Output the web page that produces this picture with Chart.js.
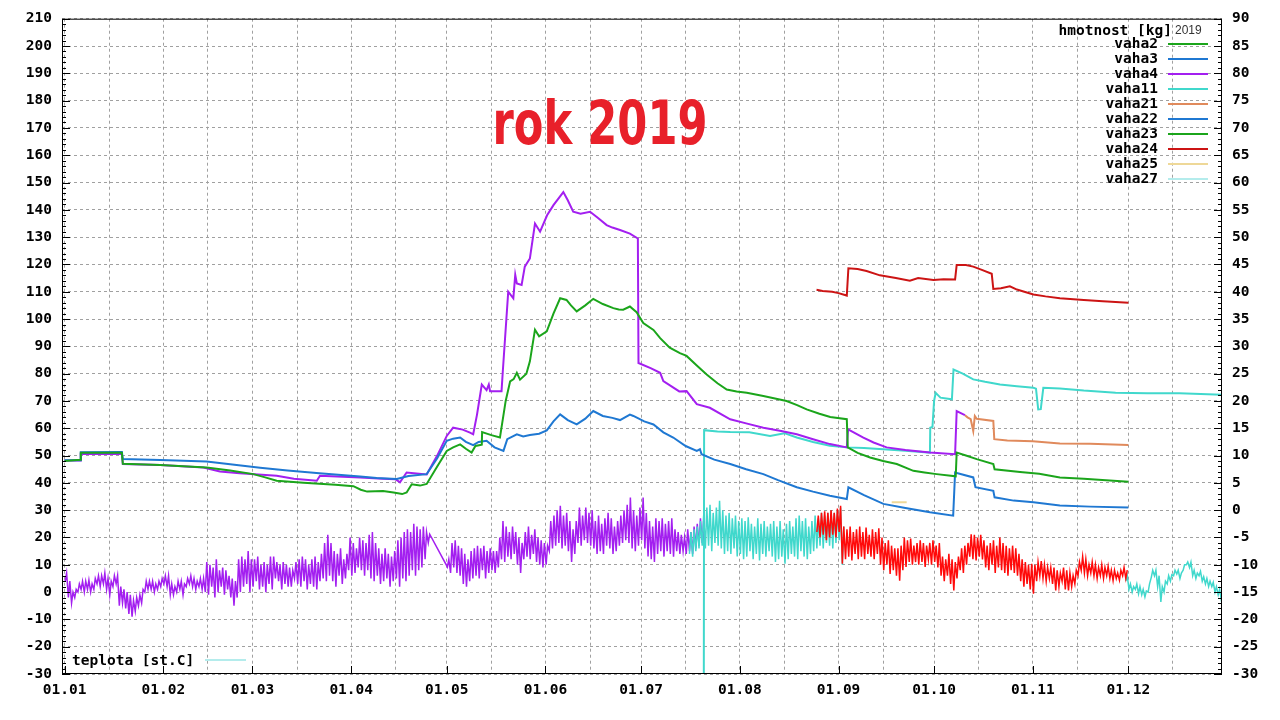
<!DOCTYPE html>
<html><head><meta charset="utf-8">
<script src="https://cdn.jsdelivr.net/npm/chart.js@4.4.1/dist/chart.umd.min.js"></script>
<style>html,body{margin:0;padding:0;background:#fff;}canvas{display:block;}</style>
</head><body>
<canvas id="c" width="1280" height="720"></canvas>
<script>
// ---- axis categories / tick labels ----
const monthStarts = [0,31,59,90,120,151,181,212,243,273,304,334];
const monthLabels = ['01.01','01.02','01.03','01.04','01.05','01.06','01.07','01.08','01.09','01.10','01.11','01.12'];
const midMonths = [14,45,73,104,134,165,195,226,257,287,318,348];

// ---- weight series: [day of year, kg] ----
const vaha2 = [[0,48],[5,48.5],[5.1,51],[18,51],[18.3,47],[30,46.5],[44.6,45.6],[52,44.5],[59.3,43.2],[63,42],[66.6,40.8],[75,40],[85,39.3],[90.7,38.8],[93,37.5],[95,36.8],[100,37],[103.3,36.5],[106,35.9],[107.4,36.5],[109,39.5],[111.6,39],[113.7,39.6],[117,46],[120,51.7],[122,53],[124.2,54.1],[126,52.5],[127.8,51.1],[129,53.5],[131,54],[131.1,58.6],[134,57.5],[136.7,56.6],[138.5,70],[139.9,77.2],[141,78],[142,80.3],[143,77.8],[145,80],[146.1,84.5],[147.7,96.1],[149,93.7],[151.4,95.5],[153.5,102],[155.6,107.6],[157.6,107],[159,105],[160.8,102.8],[163.5,105],[166,107.4],[169,105.5],[172.3,104],[174,103.5],[175.4,103.4],[177.5,104.6],[179.6,102.5],[181.7,98.5],[184.9,96],[187,93],[190,89.5],[193.2,87.5],[195.3,86.5],[198.5,83],[201.6,79.7],[205,76.5],[207.9,74.2],[211,73.5],[214.2,73],[219.4,71.8],[226.7,70],[230,68.5],[233,66.9],[237,65.3],[240.4,64.1],[245.6,63.3],[245.9,53],[249,51],[252.9,49.3],[257,48],[261.3,46.9],[266.5,44.4],[270,43.8],[273.8,43.2],[279.8,42.4],[280.1,51.1],[283,50],[286.4,48.7],[291.6,46.9],[292,45],[300,44],[306,43.3],[312.5,42],[320,41.5],[327,41],[334,40.4]];
const vaha3 = [[0,48.3],[5,48.3],[5.1,51.2],[18,51.3],[18.3,48.7],[30,48.4],[44.6,47.8],[52,46.8],[61.4,45.5],[70,44.5],[80,43.5],[92.8,42.3],[98,41.8],[104.3,41.4],[108,42.5],[113.7,43.2],[117,49],[120,55.4],[122,56.2],[124.2,56.6],[126,55],[128.3,53.8],[130,55],[132.5,55.4],[135,53],[137.8,51.7],[139,56],[142,57.8],[144,57],[146.1,57.5],[149,58],[151.4,59.2],[153.5,62.5],[155.6,65.1],[158,63],[160.8,61.4],[163.5,63.5],[166,66.3],[169,64.5],[172,63.8],[174.4,63],[177.5,65],[178.6,64.5],[182,62.5],[184.9,61.4],[188,58.5],[191.1,56.6],[195,53.5],[198.5,51.7],[199.5,52.3],[200,50.5],[204,48.5],[209,46.9],[214,45],[219.4,43.2],[224,41],[229.9,38.4],[235,36.8],[240.3,35.3],[245.6,34.1],[246.1,38.4],[251,35.5],[257.1,32.3],[264,30.8],[271.7,29.2],[279,28],[279.6,43.8],[285.3,42],[286,38.4],[291.6,37.1],[292,34.7],[298,33.5],[304.2,32.9],[312.5,31.7],[322,31.3],[334,31]];
const vaha4 = [[0,48.2],[5,48.2],[5.1,50.6],[18,50.6],[18.3,46.9],[30,46.5],[43.6,45.6],[48.8,44.2],[55,43.5],[66.6,42.6],[72,41.5],[79.2,40.8],[80.2,42.6],[92.8,42],[100,41.5],[104,41.3],[105.3,40.2],[107.4,43.8],[113.7,43.1],[117,50],[120,57.2],[122,60.2],[125,59.5],[127.3,58.4],[128.3,57.8],[129.5,65],[131,76],[132.5,74],[133.2,76],[133.6,73.6],[137.2,73.6],[137.6,80.9],[139.3,110],[140.9,107.6],[141.5,116.2],[142,113],[143.5,112.5],[144.5,119.2],[146.1,122.2],[147.7,135],[149.3,132],[151.5,138],[153.5,141.7],[156.6,146.5],[158,143.5],[159.7,139.3],[162,138.6],[165,139.3],[167.5,137],[170.2,134.4],[172,133.5],[174.4,132.6],[177.5,131.3],[180,129.5],[180.2,83.9],[184,82],[187,80.3],[188,77.3],[193,73.5],[195.3,73.6],[198.5,68.8],[202.6,67.5],[209,63.3],[214,61.8],[219.4,60.2],[225,59],[229.9,57.8],[235,56],[240.3,54.2],[245.6,53],[246,59.6],[250.8,56.6],[254,54.8],[258.1,53],[264,52],[271.7,51.1],[279.6,50.5],[280.1,66.3],[282.2,65.1],[282.7,64.8]];
const vaha11 = [[200.7,-40],[200.8,59.3],[205,58.8],[209,58.6],[215,58.5],[221.5,57.2],[226,58.2],[229.9,56.6],[235,55],[240.3,53.6],[245.6,53],[251,52.8],[257,52.3],[264,51.8],[271.7,51.1],[271.8,60.2],[272.5,60.5],[273,70],[273.5,73],[275,71.2],[278.6,70.6],[279.1,81.5],[282,80],[285.3,77.9],[289,77],[293.7,76],[299,75.4],[304.2,74.8],[305,74.5],[305.7,66.9],[306.5,67],[307.3,74.8],[312.5,74.6],[320,73.8],[330,73],[340,72.8],[350,72.8],[363.4,72.3]];
const vaha21 = [[282.7,64.8],[283.5,64],[284.5,63.3],[285.3,59],[285.8,64.5],[286.4,63.5],[291.6,62.7],[291.9,56],[296,55.5],[304,55.2],[312.5,54.4],[322,54.3],[334,53.9]];
const vaha22 = [];
const vaha23 = [];
const vaha24 = [[236.1,110.7],[238,110.3],[241,110],[243,109.5],[245.6,108.6],[246.1,118.6],[249,118.3],[251.8,117.6],[256,116],[261,115],[265.4,114],[268,115],[272.8,114.3],[276,114.6],[279.6,114.5],[280.1,119.8],[283,119.8],[285.3,119.2],[288,118],[291.1,116.6],[291.6,111],[294,111.3],[296.8,112],[299,110.8],[304.2,109],[308,108.3],[312.5,107.6],[320,107],[326,106.5],[334,106]];
const vaha25 = [[259.7,32.9],[264.4,32.9]];
const vaha27 = [];

// ---- temperature: daily [low, high] in deg C ----
const tempPurpleStart = 0;
const tempPurple = [
[-13,-11.5],[-16,-13],[-17,-15],[-16,-14.5],[-15,-13.5],[-14.5,-13],[-15,-13],[-14.5,-12.8],[-15,-13.5],[-14.5,-12.5],
[-13.5,-12],[-14,-12],[-13.5,-11.5],[-14.5,-12.5],[-15.5,-13],[-14,-12],[-13.5,-12],[-17.5,-14],[-17,-14.5],[-18,-15],
[-19,-15.5],[-19.5,-16.5],[-18.5,-16],[-17.5,-15.5],[-17,-14.5],[-15,-13],[-14.5,-13],[-14.5,-13],[-15,-13.5],[-14.5,-13],
[-14,-12.5],[-13.5,-12],[-14,-12],[-15.5,-13.5],[-15.5,-14],[-15,-13],[-14.5,-13],[-15.5,-13.5],[-14,-12.5],[-13.5,-12],
[-14,-12.5],[-14.5,-13],[-14,-12.5],[-14.5,-12.5],[-15,-9.5],[-15.5,-10],[-14,-10.5],[-16,-9],[-15,-11],[-14,-10.5],
[-15.5,-11],[-14.5,-12],[-16,-12.5],[-17.5,-13],[-16,-9],[-15,-8.5],[-14,-9],[-13.5,-7.5],[-15,-9],[-14,-9],
[-13,-8.5],[-14.5,-10],[-14,-9.5],[-15,-10],[-13.5,-8.5],[-14.5,-8.5],[-12.5,-9.5],[-13,-10],[-14.5,-9.5],[-13.5,-10],
[-14,-10.5],[-14,-11],[-12.5,-9.5],[-13.5,-9],[-14,-8.5],[-13,-9],[-14.5,-10],[-13.5,-9],[-14,-8.5],[-14.5,-9.5],
[-13,-8],[-12.5,-6],[-13,-4.5],[-12,-6],[-13,-7.5],[-14,-8],[-12,-7],[-13.5,-9],[-12.5,-8],[-11,-5],
[-12,-6],[-11.5,-7],[-10.5,-5],[-11,-5.5],[-12,-6],[-11,-4.5],[-12.5,-4],[-13,-6],[-12,-7],[-13.5,-8],
[-13,-7],[-12.5,-8],[-14,-8.5],[-13,-7.5],[-12.5,-5.5],[-14,-5],[-12.5,-4],[-13,-3.5],[-12,-4],[-11,-2.5],
[-12,-3],[-11,-3.5],[-10.5,-3],[-9,-4],[-6,-4.4],null,null,null,null,null,
[-10.4,-9],[-11.5,-6],[-10.5,-5.5],[-11.5,-6.5],[-12,-7],[-13.5,-8],[-14,-9],[-13,-7.5],[-12.5,-7],[-12,-6.5],
[-12.5,-7],[-11,-6.5],[-12.5,-7.5],[-11.5,-7],[-11,-7.5],[-11.5,-7.5],[-10.5,-5],[-9,-2],[-9.5,-3],[-8.5,-4],
[-9,-3],[-8,-4],[-10,-5],[-11.5,-6],[-9,-4],[-8.5,-3],[-9,-4.5],[-8,-3.5],[-9.5,-5],[-10,-5.5],
[-10.5,-6],[-10,-6.5],[-7.5,-2],[-7,-1],[-6.5,0],[-6,0.8],[-7,-1],[-6.5,-0.5],[-7.5,-2],[-9.5,-3.5],
[-8,-2],[-6,0.5],[-6.5,-1],[-5.5,0.5],[-6,-0.5],[-6.5,0],[-7,-2],[-8,-1],[-7.5,-2.5],[-8,-1.5],
[-6.5,-0.5],[-7,-1.5],[-8,-3],[-7.5,-2],[-6.5,-1],[-6,0],[-5.5,1],[-6,2.3],[-7,0],[-7.5,-1],
[-6.5,0.5],[-5.5,2.3],[-7,-0.5],[-8.5,-2],[-9,-3],[-9.5,-1.5],[-8,-2],[-7.5,-1.5],[-8.5,-2.5],[-7.5,-2],
[-8,-1.5],[-8.5,-3.5],[-7.5,-4],[-8,-4.5],[-7.5,-5],[-8,-3.5],[-7.5,-4],[-8,-3],[-7,-2.5],[-6.5,-1.5],[-6,-2]];
const tempCyanAStart = 196;
const tempCyanA = [
[-8,-4],[-8.5,-3.5],[-7.5,-3],[-7,-2],[-6.5,-1],[-7,0.5],[-6.5,1],[-7.5,-0.5],[-6,0.5],[-6.5,1.7],
[-7,0],[-8,-1],[-7.5,-0.5],[-8,-1.5],[-7,-1],[-8.5,-2],[-8,-1.5],[-9,-2],[-8.5,-1.3],[-7.5,-2.5],
[-9,-3],[-8,-1.5],[-9.2,-2.5],[-8,-2],[-8.5,-3],[-7.5,-2.5],[-8.5,-2],[-9.5,-3],[-9,-2],[-8.5,-3.5],
[-9.8,-2.5],[-9,-2],[-8,-3],[-8.5,-1.5],[-9,-1],[-7.5,-2],[-8.5,-1.5],[-9,-3],[-8,-2],[-7.5,-1],
[-7,-1.5],[-6.5,-0.5],[-7,-1],[-6,-0.5],[-6.5,0],[-7,-0.5],[-6,0],[-5.5,0.5],[-10,-3]];
const tempRedStart = 236;
const tempRed = [
[-4,-1],[-5,-0.5],[-4.5,-0.2],[-5.5,-0.5],[-5,0],[-4.5,-0.5],[-5,0.3],[-4,0.8],[-9.8,-3],[-9,-3.5],
[-8.5,-3],[-9.2,-4],[-8,-3.5],[-9,-3],[-8.5,-4],[-9,-3.2],[-8,-4.5],[-8.5,-3.5],[-9,-4],[-8,-3.3],
[-10,-5],[-11,-6],[-10,-5.5],[-11.7,-6.5],[-11,-7],[-12,-7],[-12.9,-6.5],[-11,-5],[-10.4,-5.5],[-9.5,-5.2],
[-10,-6.5],[-9.5,-6],[-10,-5.5],[-9.5,-6],[-10.4,-6.5],[-9,-6],[-10,-5.5],[-9.5,-6.5],[-10.5,-6],[-12,-8.5],
[-13,-9],[-12,-8],[-13.5,-9],[-14.7,-9.5],[-12.5,-8.5],[-11,-7],[-11.5,-6.5],[-10,-6],[-8.5,-4.4],[-9,-4.5],
[-9.2,-5],[-8.5,-4.5],[-9,-5.5],[-10.5,-6.5],[-11,-6],[-10,-5.5],[-11.5,-6.5],[-10.5,-5],[-11,-6],[-11.5,-6.5],
[-12,-7],[-11,-6.5],[-11.5,-7],[-12,-8],[-13,-9],[-14,-9.5],[-13.5,-10],[-14.5,-9.8],[-15.3,-10],[-13,-9.5],
[-12,-9.3],[-12.5,-10],[-13,-10.5],[-12.5,-10.5],[-13.5,-10.5],[-14.7,-11],[-14,-11.5],[-13,-10.5],[-14.5,-11],[-14.7,-11.5],
[-14,-12],[-13.5,-11],[-12,-9.5],[-11,-8.5],[-11.5,-9],[-12,-10],[-11.5,-9.5],[-12,-10],[-12.5,-10.5],[-12,-10],
[-12.5,-10.5],[-12,-10.3],[-12.5,-11],[-12.9,-11],[-12.5,-11.5],[-12.8,-11],[-12,-10.5],[-12.5,-11]];
const tempCyanBStart = 333;
const tempCyanB = [
[-13,-12],[-14.5,-13.5],[-15,-14],[-14.5,-13.5],[-15.3,-14],[-15.5,-14.5],[-15.9,-14.8],[-15,-13.5],[-12.3,-11],[-12,-11],
[-14,-12],[-16.8,-14],[-15,-13],[-13.5,-12],[-13,-11.8],[-12,-11],[-11.7,-11],[-12.5,-11.5],[-11,-10],[-10,-9.5],
[-10.5,-9.5],[-12,-11],[-12.5,-11.5],[-12,-11.2],[-13,-12.2],[-13.5,-12.5],[-14,-13],[-14,-13.2],[-15,-14],[-15.5,-14.5],
[-16.5,-15]];

// ---- helpers (build library data from the arrays above) ----
function pairsToPoints(pairs){ return pairs.map(p => ({x:p[0], y:p[1]})); }
function dailyToPoints(start, days){
  const pts = [];
  days.forEach((d,i) => { if(!d) return; const day = start + i; pts.push({x:day+0.2, y:d[0]}, {x:day+0.65, y:d[1]}); });
  return pts;
}

const FONT = "'DejaVu Sans Mono', 'Liberation Mono', monospace";
const C = { green:'#1ba51b', blue:'#1f78d2', purple:'#a31ff0', turq:'#40d8cc', orange:'#e08a5c', red:'#cc1414', khaki:'#eed898', pale:'#b4ecec', tred:'#ff0a0a' };

function wds(label, data, color){
  return { label, data: pairsToPoints(data), borderColor: color, backgroundColor: color, borderWidth: 2, pointRadius: 0, tension: 0, yAxisID: 'y', order: 10, isWeight: true };
}
const datasets = [
  wds('vaha2', vaha2, C.green),
  wds('vaha3', vaha3, C.blue),
  wds('vaha4', vaha4, C.purple),
  wds('vaha11', vaha11, C.turq),
  wds('vaha21', vaha21, C.orange),
  wds('vaha22', vaha22, C.blue),
  wds('vaha23', vaha23, C.green),
  wds('vaha24', vaha24, C.red),
  wds('vaha25', vaha25, C.khaki),
  wds('vaha27', vaha27, C.pale),
  { label:'teplota4', data: dailyToPoints(tempPurpleStart, tempPurple), borderColor: C.purple, borderWidth: 1.5, pointRadius: 0, yAxisID:'y2', order: 3 },
  { label:'teplota11', data: dailyToPoints(tempCyanAStart, tempCyanA).concat([{x:290, y:null}], dailyToPoints(tempCyanBStart, tempCyanB)), borderColor: C.turq, borderWidth: 1.5, pointRadius: 0, yAxisID:'y2', order: 2 },
  { label:'teplota24', data: dailyToPoints(tempRedStart, tempRed), borderColor: C.tred, borderWidth: 1.5, pointRadius: 0, yAxisID:'y2', order: 1 }
];

const gridOpts = { color:'#a0a0a0', lineWidth:1, drawTicks:false };
const tickFont = { family: FONT, size: 14.5, weight: 'bold' };

const decorPlugin = {
  id: 'decor',
  afterDatasetsDraw(chart){
    const {ctx, chartArea:a, scales} = chart;
    ctx.save();
    ctx.strokeStyle = '#000'; ctx.lineWidth = 1;
    ctx.strokeRect(a.left + 0.5, a.top + 0.5, a.right - a.left - 1, a.bottom - a.top - 1);
    ctx.beginPath();
    for (let v = -30; v <= 210; v += 2) {
      const y = Math.round(scales.y.getPixelForValue(v)) + 0.5;
      const len = (v % 10 === 0) ? 8 : 4;
      ctx.moveTo(a.left, y); ctx.lineTo(a.left + len, y);
    }
    for (let v = -30; v <= 90; v += 1) {
      const y = Math.round(scales.y2.getPixelForValue(v)) + 0.5;
      const len = (v % 5 === 0) ? 8 : 4;
      ctx.moveTo(a.right, y); ctx.lineTo(a.right - len, y);
    }
    monthStarts.forEach(m => {
      const x = Math.round(scales.x.getPixelForValue(m)) + 0.5;
      ctx.moveTo(x, a.bottom); ctx.lineTo(x, a.bottom - 8);
    });
    ctx.stroke();
    ctx.restore();
  },
  afterDraw(chart){
    const {ctx} = chart;
    ctx.save();
    // title (condensed bold look)
    ctx.save();
    ctx.fillStyle = '#e8202a';
    ctx.font = "bold 60px 'DejaVu Sans', 'Liberation Sans', sans-serif";
    ctx.textAlign = 'center'; ctx.textBaseline = 'alphabetic';
    ctx.translate(600, 144);
    ctx.scale(0.72, 1);
    ctx.fillText('rok 2019', 0, 0);
    ctx.restore();
    // weight key
    ctx.fillStyle = '#000';
    ctx.font = "bold 14.5px " + FONT;
    ctx.textAlign = 'right'; ctx.textBaseline = 'middle';
    ctx.fillText('hmotnost [kg]', 1172, 31);
    ctx.font = "12px 'Liberation Sans', sans-serif";
    ctx.fillStyle = '#333';
    ctx.textAlign = 'left';
    ctx.fillText('2019', 1175, 31);
    ctx.font = "bold 14.5px " + FONT;
    ctx.fillStyle = '#000';
    let row = 0;
    chart.data.datasets.forEach(ds => {
      if (!ds.isWeight) return;
      const y = 44 + row * 15;
      ctx.textAlign = 'right';
      ctx.fillText(ds.label, 1158, y);
      ctx.strokeStyle = ds.borderColor; ctx.lineWidth = 2;
      ctx.beginPath(); ctx.moveTo(1168, y); ctx.lineTo(1208, y); ctx.stroke();
      row++;
    });
    // temperature key
    ctx.textAlign = 'left';
    ctx.fillText('teplota [st.C]', 72, 661);
    ctx.strokeStyle = C.pale; ctx.lineWidth = 2;
    ctx.beginPath(); ctx.moveTo(205, 660); ctx.lineTo(246, 660); ctx.stroke();
    ctx.restore();
  }
};

new Chart(document.getElementById('c'), {
  type: 'line',
  data: { datasets },
  options: {
    responsive: false, animation: false, devicePixelRatio: 1,
    layout: { padding: { top: 16, left: 0, right: 0, bottom: 0 } },
    plugins: { legend: { display: false }, tooltip: { enabled: false }, title: { display: false } },
    scales: {
      x: {
        type: 'linear', min: -0.8, max: 363.4,
        afterBuildTicks: (s) => { s.ticks = monthStarts.concat(midMonths).sort((a,b)=>a-b).map(v => ({value: v})); },
        afterFit: (s) => { s.height = 46; },
        ticks: { autoSkip: false, maxRotation: 0, minRotation: 0, padding: 8, color: '#000', font: tickFont,
          callback: (v) => { const i = monthStarts.indexOf(v); return i >= 0 ? monthLabels[i] : ''; } },
        grid: gridOpts,
        border: { display: false, dash: [3,3] }
      },
      y: {
        position: 'left', min: -30, max: 210,
        afterFit: (s) => { s.width = 62; },
        ticks: { stepSize: 10, padding: 10, color: '#000', font: tickFont },
        grid: gridOpts,
        border: { display: false, dash: [3,3] }
      },
      y2: {
        position: 'right', min: -30, max: 90,
        afterFit: (s) => { s.width = 58; },
        ticks: { stepSize: 5, padding: 10, color: '#000', font: tickFont },
        grid: { drawOnChartArea: false, drawTicks: false },
        border: { display: false }
      }
    }
  },
  plugins: [decorPlugin]
});
</script>
</body></html>
